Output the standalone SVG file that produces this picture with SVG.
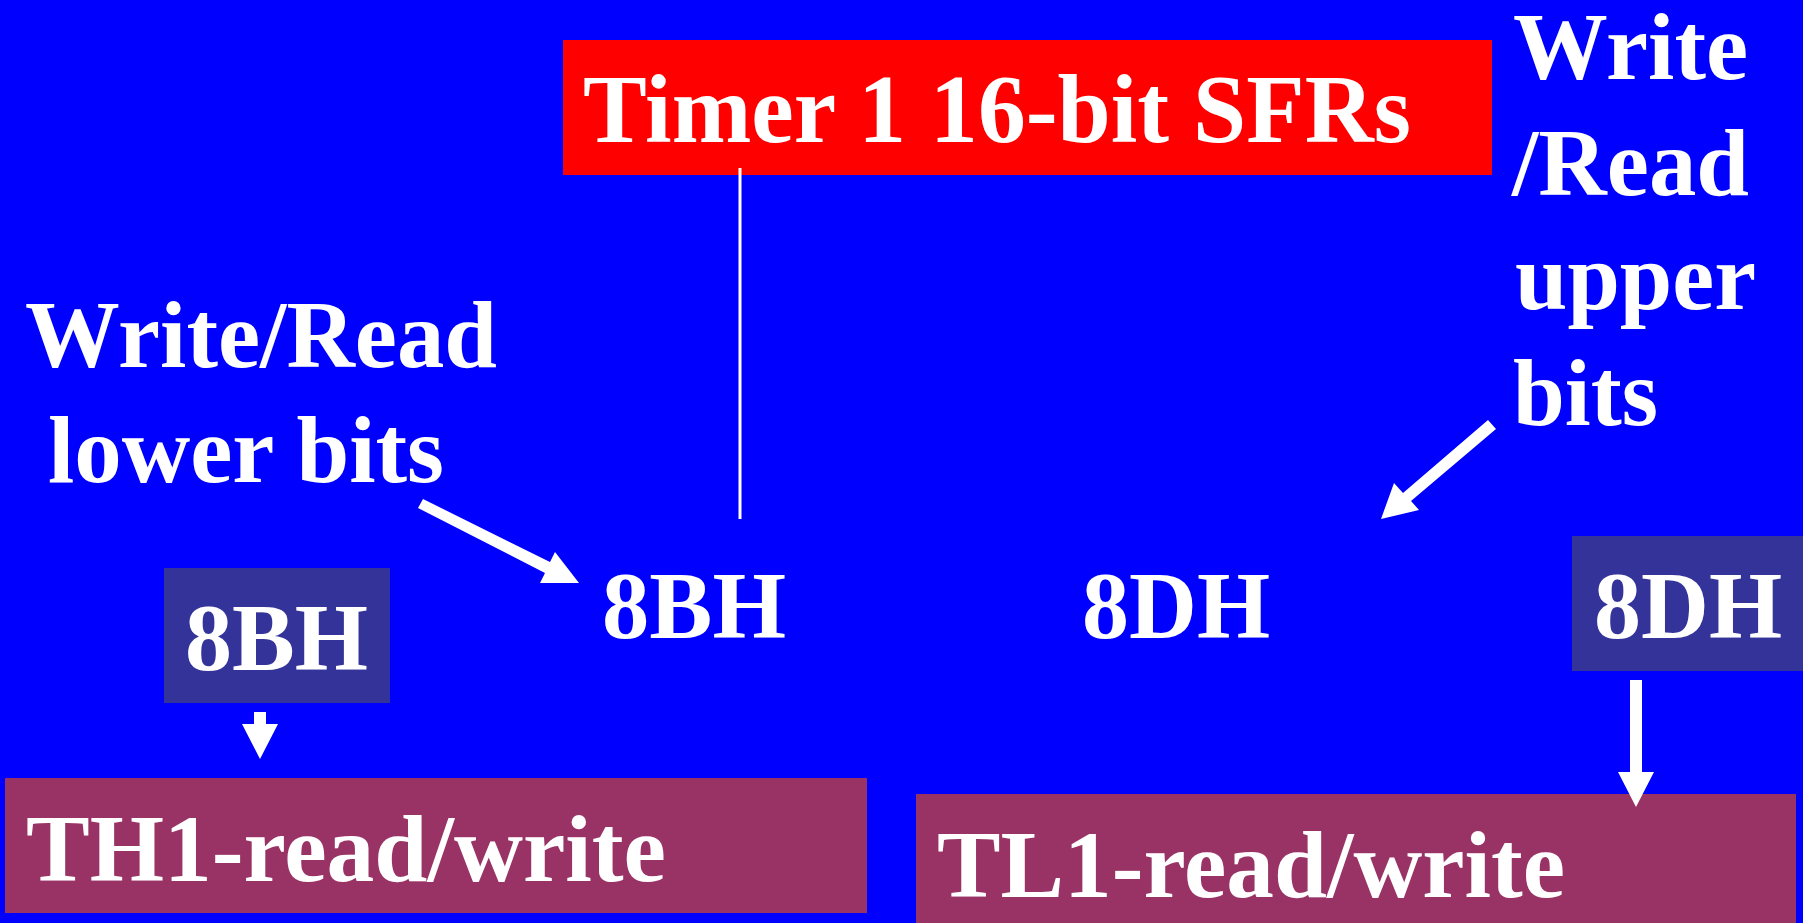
<svg xmlns="http://www.w3.org/2000/svg" width="1803" height="923" viewBox="0 0 1803 923">
  <style>
    .t { font-family: "Liberation Serif", "Times New Roman", serif; font-weight: bold; font-size: 96px; fill: #FFFFFF; }
    .arrow { fill: #FFFFFF; stroke: none; }
    .lead { stroke: #FFFFFF; stroke-width: 3; fill: none; }
  </style>

  <!-- slide background -->
  <rect x="0" y="0" width="1803" height="923" fill="#0000FF"/>

  <!-- title block -->
  <g id="title">
    <rect x="563" y="40" width="929" height="135" fill="#FF0000"/>
    <text class="t" x="583" y="142" style="font-size:98px" textLength="828" lengthAdjust="spacingAndGlyphs">Timer 1 16-bit SFRs</text>
  </g>

  <!-- annotation: lower bits -->
  <g id="note-lower">
    <text class="t" x="25" y="367" textLength="472" lengthAdjust="spacingAndGlyphs">Write/Read</text>
    <text class="t" x="48" y="482" textLength="396" lengthAdjust="spacingAndGlyphs">lower bits</text>
  </g>

  <!-- annotation: upper bits -->
  <g id="note-upper">
    <text class="t" x="1513" y="79" textLength="235" lengthAdjust="spacingAndGlyphs">Write</text>
    <text class="t" x="1512" y="195" textLength="237" lengthAdjust="spacingAndGlyphs">/Read</text>
    <text class="t" x="1515" y="309" textLength="241" lengthAdjust="spacingAndGlyphs">upper</text>
    <text class="t" x="1513" y="425" textLength="145" lengthAdjust="spacingAndGlyphs">bits</text>
  </g>

  <!-- addresses in the middle row -->
  <g id="addr-8BH">
    <text class="t" x="602" y="638" textLength="184" lengthAdjust="spacingAndGlyphs">8BH</text>
  </g>
  <g id="addr-8DH">
    <text class="t" x="1082" y="638" textLength="188" lengthAdjust="spacingAndGlyphs">8DH</text>
  </g>

  <!-- boxed addresses -->
  <g id="box-8BH">
    <rect x="164" y="568" width="226" height="135" fill="#333399"/>
    <text class="t" x="185" y="670" textLength="183" lengthAdjust="spacingAndGlyphs">8BH</text>
  </g>
  <g id="box-8DH">
    <rect x="1572" y="536" width="231" height="135" fill="#333399"/>
    <text class="t" x="1594" y="638" textLength="188" lengthAdjust="spacingAndGlyphs">8DH</text>
  </g>

  <!-- register blocks -->
  <g id="reg-TH1">
    <rect x="5" y="778" width="862" height="135" fill="#993366"/>
    <text class="t" x="26" y="881" textLength="640" lengthAdjust="spacingAndGlyphs">TH1-read/write</text>
  </g>
  <g id="reg-TL1">
    <rect x="916" y="794" width="880" height="129" fill="#993366"/>
    <text class="t" x="937" y="897" textLength="628" lengthAdjust="spacingAndGlyphs">TL1-read/write</text>
  </g>

  <!-- connectors -->
  <g id="connectors">
    <line class="lead" x1="740" y1="168" x2="740" y2="519"/>
    <polygon class="arrow" points="423,499 550,562 555,552 579,583 540,583 545,573 418,508"/>
    <polygon class="arrow" points="1488,420 1403,493 1394,483 1381,519 1419,510 1411,501 1496,429"/>
    <polygon class="arrow" points="254,712 266,712 266,724 278,724 260,759 242,724 254,724"/>
    <polygon class="arrow" points="1630,680 1642,680 1642,772 1654,772 1636,807 1618,772 1630,772"/>
  </g>
</svg>
